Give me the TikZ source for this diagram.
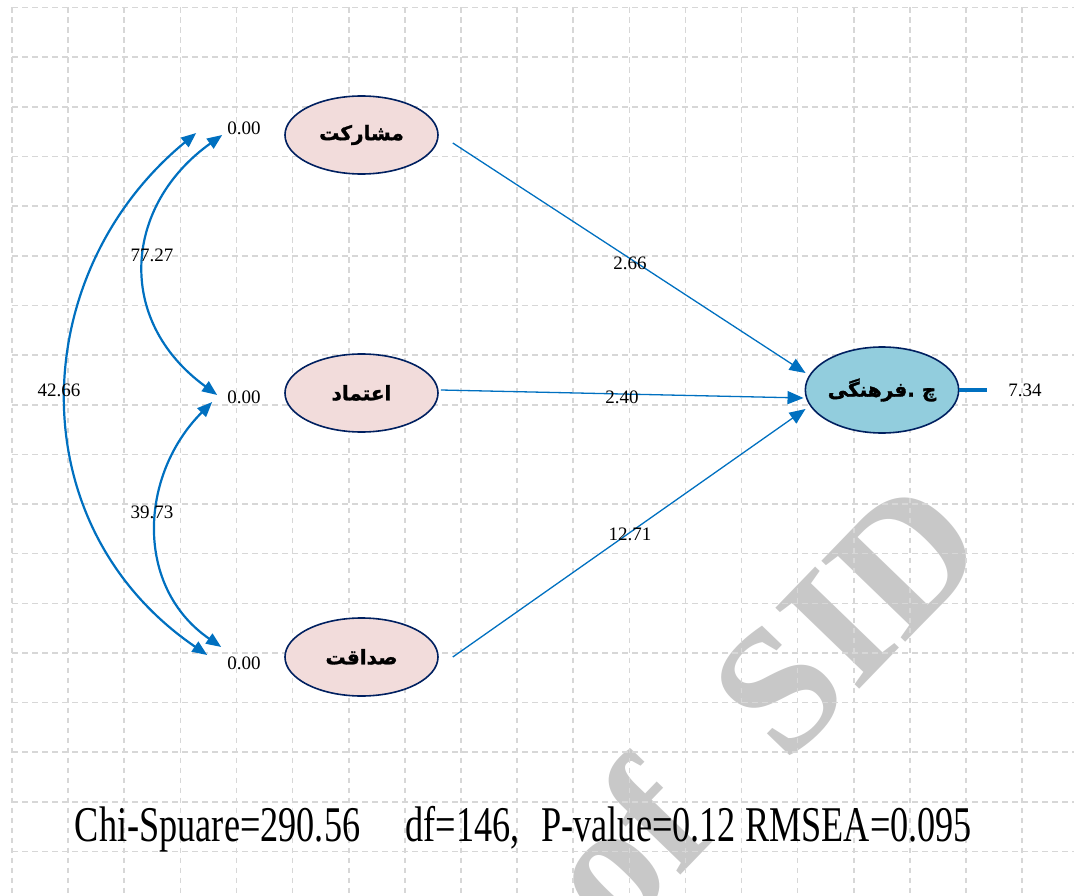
\documentclass[tikz,border=0pt]{standalone}
\usepackage{graphicx}
\usepackage{fontspec}
\setmainfont{Liberation Serif}
\newfontfamily\fa[Script=Arabic, FakeBold=1.5]{DejaVu Sans}
\TeXXeTstate=1
\usetikzlibrary{shapes.geometric,arrows.meta,calc}
\definecolor{pinkfill}{RGB}{242,220,219}
\definecolor{bluefill}{RGB}{146,205,221}
\definecolor{navy}{RGB}{0,32,96}
\definecolor{arrowblue}{RGB}{0,112,192}
\definecolor{gridgray}{RGB}{215,215,215}
\definecolor{wmgray}{RGB}{200,200,200}
\begin{document}
\begin{tikzpicture}[x=1pt,y=-1pt,
 latent/.style={ellipse, draw=navy, line width=1.6pt, minimum width=153pt, minimum height=78pt, inner sep=0pt, font=\fa\bfseries\fontsize{20}{24}\selectfont},
 num/.style={font=\fontsize{19}{22}\selectfont, inner sep=0pt},
 pathar/.style={draw=arrowblue, line width=1.3pt, -{Triangle[length=16pt,width=13pt]}},
 cov/.style={draw=arrowblue, line width=2.2pt, {Triangle[length=15pt,width=12pt]}-{Triangle[length=15pt,width=12pt]}},
 gridline/.style={draw=gridgray, line width=1.6pt, dash pattern=on 5.5pt off 4.5pt}]
\useasboundingbox (0,0) rectangle (1074,896);
% watermark
\node[rotate=46, text=wmgray, font=\bfseries\fontsize{178}{178}\selectfont, inner sep=0pt] (wm) at (760,704) {of\hspace{0.55em}SID};
% grid
\foreach \i in {0,...,18} \draw[gridline] (12+56.12*\i,7.5) -- (12+56.12*\i,896);
\foreach \j in {0,...,17} \draw[gridline] (12,7.5+49.65*\j) -- (1074,7.5+49.65*\j);
% latent variables
\node[latent, fill=pinkfill] (m) at (361.5,135) {\beginR مشارکت\endR};
\node[latent, fill=pinkfill] (e) at (361.5,393) {\beginR اعتماد\endR};
\node[latent, fill=pinkfill] (s) at (361.5,657) {\beginR صداقت\endR};
\node[latent, fill=bluefill, minimum width=150pt, minimum height=86pt] (c) at (882,390) {\beginR چ .فرهنگی\endR};
% variances
\node[num] (v1) at (244,128) {0.00};
\node[num] (v2) at (244,397) {0.00};
\node[num] (v3) at (244,663) {0.00};
% paths
\draw[pathar] ($(m.east)+(14,8)$) -- ($(c.west)+(1,-17)$);
\draw[pathar] ($(e.east)+(2,-3)$) -- ($(c.west)+(-1,8)$);
\draw[pathar] ($(s.east)+(14,0)$) -- ($(c.west)+(1,19)$);
\node[num] (p1) at (630,263) {2.66};
\node[num] (p2) at (622,397) {2.40};
\node[num] (p3) at (630,534) {12.71};
% error
\coordinate (ce) at ($(c.east)+(28,0)$);
\draw[draw=arrowblue, line width=3.5pt] (c.east) -- (ce);
\node[num] (err) at (1025,390) {7.34};
% covariances
\coordinate (a1) at ($(m.west)+(-62,0)$);
\coordinate (a2) at ($(m.west)+(-88,-2)$);
\coordinate (b1) at ($(e.west)+(-67,2)$);
\coordinate (b2) at ($(e.west)+(-72,9)$);
\coordinate (d1) at ($(s.west)+(-63,-10)$);
\coordinate (d2) at ($(s.west)+(-77,-2)$);
\draw[cov] (a1) .. controls +(-98,70) and +(-103,-75) .. (b1);
\draw[cov] (b2) .. controls +(-73,73) and +(-87,-60) .. (d1);
\draw[cov] (a2) .. controls +(-170,140) and +(-190,-130) .. (d2);
\node[num] (k1) at (152,255) {77.27};
\node[num] (k2) at (152,512) {39.73};
\node[num] (k3) at (59,390) {42.66};
% fit statistics
\node[inner sep=0pt, anchor=base] (fit) at (523.5,841) {\resizebox{897pt}{\height}{\fontsize{50}{60}\selectfont Chi-Spuare=290.56\hspace{1.25em}df=146,\hspace{0.6em}P-value=0.12 RMSEA=0.095}};
\end{tikzpicture}
\end{document}
